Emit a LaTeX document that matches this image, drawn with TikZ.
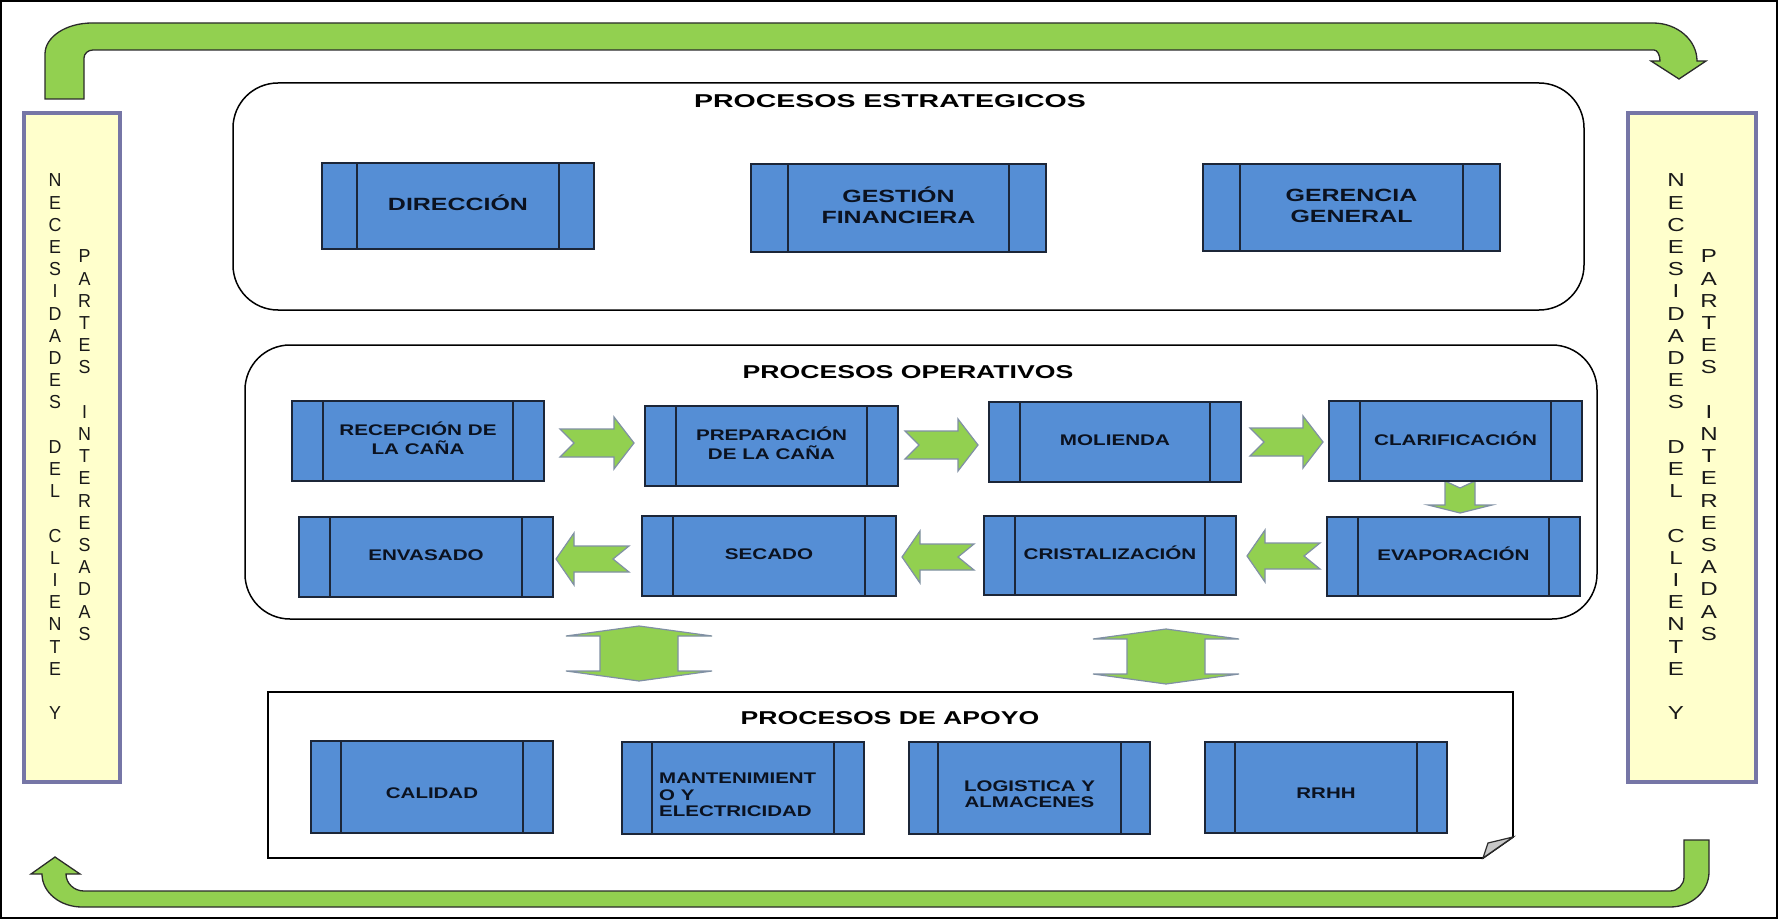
\documentclass[tikz,border=0pt]{standalone}
\usepackage{fontspec}
\setmainfont{Liberation Sans}
\usepackage{graphicx}
\usetikzlibrary{calc}
\definecolor{boxblue}{HTML}{558ED5}
\definecolor{boxline}{HTML}{1C2638}
\definecolor{txtdark}{HTML}{0B1220}
\definecolor{arrgreen}{HTML}{92D050}
\definecolor{arrline}{HTML}{8090A4}
\definecolor{bentline}{HTML}{2B2B2B}
\definecolor{yfill}{HTML}{FFFFCC}
\definecolor{yline}{HTML}{7676A6}
\definecolor{foldgray}{HTML}{C8C8C8}
\newcommand{\dgS}[1]{\scalebox{1.41}[1]{\fontsize{17.7}{21}\selectfont\bfseries\begin{tabular}{@{}c@{}}#1\end{tabular}}}
\newcommand{\dgO}[1]{\scalebox{1.34}[1]{\fontsize{15.4}{16.7}\selectfont\bfseries\begin{tabular}{@{}c@{}}#1\end{tabular}}}
\newcommand{\dgA}[1]{\scalebox{1.33}[1]{\fontsize{15.4}{16.5}\selectfont\bfseries\begin{tabular}{@{}c@{}}#1\end{tabular}}}
\newcommand{\dgAl}[1]{\scalebox{1.33}[1]{\fontsize{15.4}{16.5}\selectfont\bfseries\begin{tabular}{@{}l@{}}#1\end{tabular}}}
\newcommand{\dgT}[2]{\scalebox{#1}[1]{\fontsize{18.6}{22}\selectfont\bfseries #2}}
\newcommand{\dgV}[2]{\scalebox{#1}[1]{\fontsize{18.8}{22.2}\selectfont\begin{tabular}{@{}c@{}}#2\end{tabular}}}
\newcommand{\dgRarr}[3]{\draw[dgnotch] (#1,#3-14) -- (#2-20,#3-14) -- (#2-20,#3-26) -- (#2,#3) -- (#2-20,#3+26) -- (#2-20,#3+14) -- (#1,#3+14) -- (#1+14,#3) -- cycle;}
\newcommand{\dgLarr}[3]{\draw[dgnotch] (#2,#3-13) -- (#1+18,#3-13) -- (#1+18,#3-26) -- (#1,#3) -- (#1+18,#3+26) -- (#1+18,#3+13) -- (#2,#3+13) -- (#2-16,#3) -- cycle;}
\newcommand{\dgUD}[3]{\draw[dgnotch] (#1,#2) -- (#1+73,#2+10) -- (#1+39,#2+10) -- (#1+39,#3-10) -- (#1+73,#3-10) -- (#1,#3) -- (#1-73,#3-10) -- (#1-39,#3-10) -- (#1-39,#2+10) -- (#1-73,#2+10) -- cycle;}
\tikzset{
  dgproc/.style={draw=boxline, line width=1.5pt, fill=boxblue, inner sep=0pt, text=txtdark,
    path picture={\draw[boxline, line width=1.5pt]
      ([xshift=#1]path picture bounding box.north west) -- ([xshift=#1]path picture bounding box.south west)
      ([xshift=-#1]path picture bounding box.north east) -- ([xshift=-#1]path picture bounding box.south east);}},
  dgnotch/.style={fill=arrgreen, draw=arrline, line width=1.2pt, line join=miter},
  dgbent/.style={fill=arrgreen, draw=bentline, line width=1.3pt},
  dgrbox/.style={draw=black, line width=1.5pt, fill=white, rounded corners=45pt, inner sep=0pt},
  dgybox/.style={draw=yline, line width=3.5pt, fill=yfill, inner sep=0pt},
  dgtitle/.style={inner sep=0pt, text=black},
  dgvt/.style={inner sep=0pt, text=black!90, anchor=north},
  dgat/.style={inner sep=0pt, text=txtdark}
}
\begin{document}
\begin{tikzpicture}[x=1pt,y=-1pt]
\useasboundingbox (0,0) rectangle (1778,920);
\fill[white] (0,0) rectangle (1778,920);
\draw[line width=2pt] (1,1.2) rectangle (1776.8,918);

% side boxes
\node[dgybox, minimum width=96pt, minimum height=669pt] (yl) at (72,447.5) {};
\node[dgybox, minimum width=128pt, minimum height=669pt] (yr) at (1692,447.5) {};
\node[dgvt] (ylA) at (55,171.1) {\dgV{0.95}{N\\E\\C\\E\\S\\I\\D\\A\\D\\E\\S\\ \\D\\E\\L\\ \\C\\L\\I\\E\\N\\T\\E\\ \\Y}};
\node[dgvt] (ylB) at (84.5,247.1) {\dgV{0.95}{P\\A\\R\\T\\E\\S\\ \\I\\N\\T\\E\\R\\E\\S\\A\\D\\A\\S}};
\node[dgvt] (yrA) at (1676,171.1) {\dgV{1.28}{N\\E\\C\\E\\S\\I\\D\\A\\D\\E\\S\\ \\D\\E\\L\\ \\C\\L\\I\\E\\N\\T\\E\\ \\Y}};
\node[dgvt] (yrB) at (1709,247.1) {\dgV{1.28}{P\\A\\R\\T\\E\\S\\ \\I\\N\\T\\E\\R\\E\\S\\A\\D\\A\\S}};

% bent arrows
\draw[dgbent] (45,99) -- (45,54) arc[start angle=180, end angle=270, x radius=47, y radius=31]
  -- (1653,23) arc[start angle=270, end angle=360, x radius=44, y radius=38]
  -- (1706,61) -- (1679,79) -- (1651,61) -- (1660,61)
  arc[start angle=360, end angle=270, x radius=6, y radius=11]
  -- (93,50) arc[start angle=270, end angle=180, x radius=9, y radius=8]
  -- (84,99) -- cycle;
\draw[dgbent] (1684,840) -- (1709,840) -- (1709,872)
  arc[start angle=0, end angle=90, x radius=39, y radius=35]
  -- (82,907) arc[start angle=90, end angle=180, x radius=40, y radius=33]
  -- (31,874) -- (55,857) -- (80,874) -- (66,874)
  arc[start angle=180, end angle=90, x radius=18, y radius=17]
  -- (1670,891) arc[start angle=90, end angle=0, x radius=14, y radius=14]
  -- cycle;

% group frames
\node[dgrbox, minimum width=1351pt, minimum height=227pt] (est) at (908.5,196.5) {};
\node[dgrbox, minimum width=1352pt, minimum height=274pt] (ope) at (921,482) {};
\draw[black, line width=1.8pt, fill=white] (268,692) -- (1513,692) -- (1513,837) -- (1483,858) -- (268,858) -- cycle;
\draw[bentline, line width=1.2pt, fill=foldgray] (1483,858) -- (1488,843) -- (1513,837) -- cycle;

% titles
\node[dgtitle] (tE) at (890,101) {\dgT{1.53}{PROCESOS ESTRATEGICOS}};
\node[dgtitle] (tO) at (908,372) {\dgT{1.43}{PROCESOS OPERATIVOS}};
\node[dgtitle] (tA) at (890,718) {\dgT{1.43}{PROCESOS DE APOYO}};

% green flow arrows
\dgRarr{560}{634}{443}
\dgRarr{905}{978}{445}
\dgRarr{1250}{1323}{442}
\draw[dgnotch] (1445,481) -- (1460,488) -- (1475,481) -- (1475,505) -- (1492,505) -- (1460,513) -- (1428,505) -- (1445,505) -- cycle;
\dgLarr{1247}{1320}{556}
\dgLarr{902}{974}{557}
\dgLarr{556}{629}{559}
\dgUD{639}{626}{681}
\dgUD{1166}{629}{684}

% strategic
\node[dgproc=35pt, minimum width=272pt, minimum height=86pt] (dir) at (458,206) {\dgS{DIRECCIÓN}};
\node[dgproc=37pt, minimum width=295pt, minimum height=88pt] (ges) at (898.5,208) {\dgS{GESTIÓN\\FINANCIERA}};
\node[dgproc=37pt, minimum width=297pt, minimum height=87pt] (ger) at (1351.5,207.5) {\dgS{GERENCIA\\GENERAL}};

% operative
\node[dgproc=31pt, minimum width=252pt, minimum height=80pt] (rec) at (418,441) {\dgO{RECEPCIÓN DE\\LA CAÑA}};
\node[dgproc=31pt, minimum width=253pt, minimum height=80pt] (prep) at (771.5,446) {\dgO{PREPARACIÓN\\DE LA CAÑA}};
\node[dgproc=31pt, minimum width=252pt, minimum height=80pt] (mol) at (1115,442) {\dgO{MOLIENDA}};
\node[dgproc=31pt, minimum width=253pt, minimum height=80pt] (clar) at (1455.5,441) {\dgO{CLARIFICACIÓN}};
\node[dgproc=31pt, minimum width=254pt, minimum height=80pt] (env) at (426,557) {\dgO{ENVASADO}};
\node[dgproc=31pt, minimum width=254pt, minimum height=80pt] (sec) at (769,556) {\dgO{SECADO}};
\node[dgproc=31pt, minimum width=252pt, minimum height=79pt] (cris) at (1110,555.5) {\dgO{CRISTALIZACIÓN}};
\node[dgproc=31pt, minimum width=253pt, minimum height=79pt] (evap) at (1453.5,556.5) {\dgO{EVAPORACIÓN}};

% support
\node[dgproc=30pt, minimum width=242pt, minimum height=92pt] (cal) at (432,787) {};
\node[dgproc=30pt, minimum width=242pt, minimum height=92pt] (man) at (743,788) {};
\node[dgproc=29pt, minimum width=241pt, minimum height=92pt] (log) at (1029.5,788) {};
\node[dgproc=30pt, minimum width=242pt, minimum height=91pt] (rrhh) at (1326,787.5) {};
\node[dgat] (calT) at ([yshift=-8pt]cal.center) {\dgA{CALIDAD}};
\node[dgat, anchor=west] (manT) at ([xshift=-84pt,yshift=-9pt]man.center) {\dgAl{MANTENIMIENT\\O Y\\ELECTRICIDAD}};
\node[dgat] (logT) at ([yshift=-8pt]log.center) {\dgA{LOGISTICA Y\\ALMACENES}};
\node[dgat] (rrhhT) at ([yshift=-8pt]rrhh.center) {\dgA{RRHH}};
\end{tikzpicture}
\end{document}
